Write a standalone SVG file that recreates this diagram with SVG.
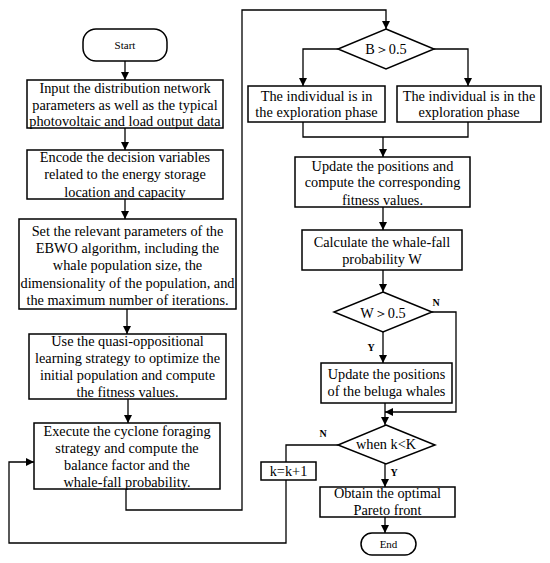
<svg xmlns="http://www.w3.org/2000/svg" width="550" height="563" viewBox="0 0 550 563">
<defs>
<marker id="ah" viewBox="0 0 10 10" refX="10" refY="5" markerWidth="8" markerHeight="8" markerUnits="userSpaceOnUse" orient="auto">
<path d="M0,0 L10,5 L0,10 z" fill="#000"/>
</marker>
<style>
.bx{fill:#fff;stroke:#000;stroke-width:1.5}
.t{font-family:"Liberation Serif","Times New Roman",serif;font-size:14.3px;fill:#000;text-anchor:middle}
.s{font-family:"Liberation Serif","Times New Roman",serif;font-size:11px;fill:#000;text-anchor:middle}
.l{font-family:"Liberation Serif","Times New Roman",serif;font-size:10px;font-weight:bold;fill:#000;text-anchor:middle}
.c{fill:none;stroke:#000;stroke-width:1.3}
.ca{fill:none;stroke:#000;stroke-width:1.3;marker-end:url(#ah)}
</style>
</defs>
<rect width="550" height="563" fill="#fff"/>
<g id="connectors">
<path class="ca" d="M125,61 V80"/>
<path class="ca" d="M125,128 V150"/>
<path class="ca" d="M125,199 V219"/>
<path class="ca" d="M127,309 V334"/>
<path class="ca" d="M128,399 V423"/>
<path class="ca" d="M126,489 V510 H242 V10 H386 V29"/>
<path class="ca" d="M338,49 H303 V86"/>
<path class="ca" d="M434,49 H468 V86"/>
<path class="c" d="M303,122 V137 H468 V122"/>
<path class="ca" d="M383,137 V157"/>
<path class="ca" d="M383,207 V230"/>
<path class="ca" d="M383,270 V292"/>
<path class="ca" d="M383,332 V363"/>
<path class="ca" d="M432,312 H456 V412 H385"/>
<path class="ca" d="M385,403 V425"/>
<path class="ca" d="M385,464 V487"/>
<path class="ca" d="M338,445 H286 V543 H9 V462 H34"/>
<path class="ca" d="M385,517 V533"/>
<text class="l" x="436" y="306">N</text>
<text class="l" x="371" y="351">Y</text>
<text class="l" x="323" y="437">N</text>
<text class="l" x="394" y="476">Y</text>
</g>
<g id="start"><rect class="bx" x="83" y="29" width="84" height="32" rx="13"/><text class="s" x="125" y="49">Start</text></g>
<g id="input"><rect class="bx" x="27" y="80" width="196" height="48"/>
<text class="t" x="125" y="93">Input the distribution network</text>
<text class="t" x="125" y="109.5">parameters as well as the typical</text>
<text class="t" x="125" y="126">photovoltaic and load output data</text></g>
<g id="encode"><rect class="bx" x="27" y="150" width="196" height="49"/>
<text class="t" x="125" y="162">Encode the decision variables</text>
<text class="t" x="125" y="179">related to the energy storage</text>
<text class="t" x="125" y="197">location and capacity</text></g>
<g id="setparams"><rect class="bx" x="19" y="219" width="217" height="90"/>
<text class="t" x="127.5" y="236">Set the relevant parameters of the</text>
<text class="t" x="127.5" y="253">EBWO algorithm, including the</text>
<text class="t" x="127.5" y="270">whale population size, the</text>
<text class="t" x="127.5" y="288">dimensionality of the population, and</text>
<text class="t" x="127.5" y="305">the maximum number of iterations.</text></g>
<g id="quasi"><rect class="bx" x="29" y="334" width="197" height="65"/>
<text class="t" x="127.5" y="346">Use the quasi-oppositional</text>
<text class="t" x="127.5" y="363">learning strategy to optimize the</text>
<text class="t" x="127.5" y="380">initial population and compute</text>
<text class="t" x="127.5" y="397">the fitness values.</text></g>
<g id="cyclone"><rect class="bx" x="34" y="423" width="186" height="66"/>
<text class="t" x="127" y="436">Execute the cyclone foraging</text>
<text class="t" x="127" y="453">strategy and compute the</text>
<text class="t" x="127" y="470">balance factor and the</text>
<text class="t" x="127" y="487">whale-fall probability.</text></g>
<g id="bcheck"><path class="bx" d="M386,29 L434,49 L386,69 L338,49 z"/><text class="t" x="386" y="54">B＞0.5</text></g>
<g id="explore1"><rect class="bx" x="248" y="86" width="137" height="36"/>
<text class="t" x="316.5" y="101">The individual is in</text>
<text class="t" x="316.5" y="117">the exploration phase</text></g>
<g id="explore2"><rect class="bx" x="397" y="86" width="144" height="36"/>
<text class="t" x="469" y="101">The individual is in the</text>
<text class="t" x="469" y="117">exploration phase</text></g>
<g id="update"><rect class="bx" x="295" y="157" width="175" height="50"/>
<text class="t" x="382.5" y="171">Update the positions and</text>
<text class="t" x="382.5" y="187">compute the corresponding</text>
<text class="t" x="382.5" y="205">fitness values.</text></g>
<g id="calc"><rect class="bx" x="302" y="230" width="160" height="40"/>
<text class="t" x="382" y="247">Calculate the whale-fall</text>
<text class="t" x="382" y="264">probability W</text></g>
<g id="wcheck"><path class="bx" d="M383,292 L432,312 L383,332 L334,312 z"/><text class="t" x="383" y="318">W＞0.5</text></g>
<g id="beluga"><rect class="bx" x="321" y="363" width="131" height="40"/>
<text class="t" x="386.5" y="379">Update the positions</text>
<text class="t" x="386.5" y="396">of the beluga whales</text></g>
<g id="kcheck"><path class="bx" d="M386,425 L435,445 L386,464 L338,445 z"/><text class="t" x="386" y="449">when k&lt;K</text></g>
<g id="kinc"><rect class="bx" x="261" y="462" width="55" height="18" stroke-width="1.2"/><text class="t" x="288.5" y="475.5">k=k+1</text></g>
<g id="obtain"><rect class="bx" x="320" y="487" width="135" height="30"/>
<text class="t" x="387.5" y="498">Obtain the optimal</text>
<text class="t" x="387.5" y="515">Pareto front</text></g>
<g id="end"><rect class="bx" x="361" y="533" width="55" height="22" rx="11"/><text class="s" x="388.5" y="548">End</text></g>
</svg>
